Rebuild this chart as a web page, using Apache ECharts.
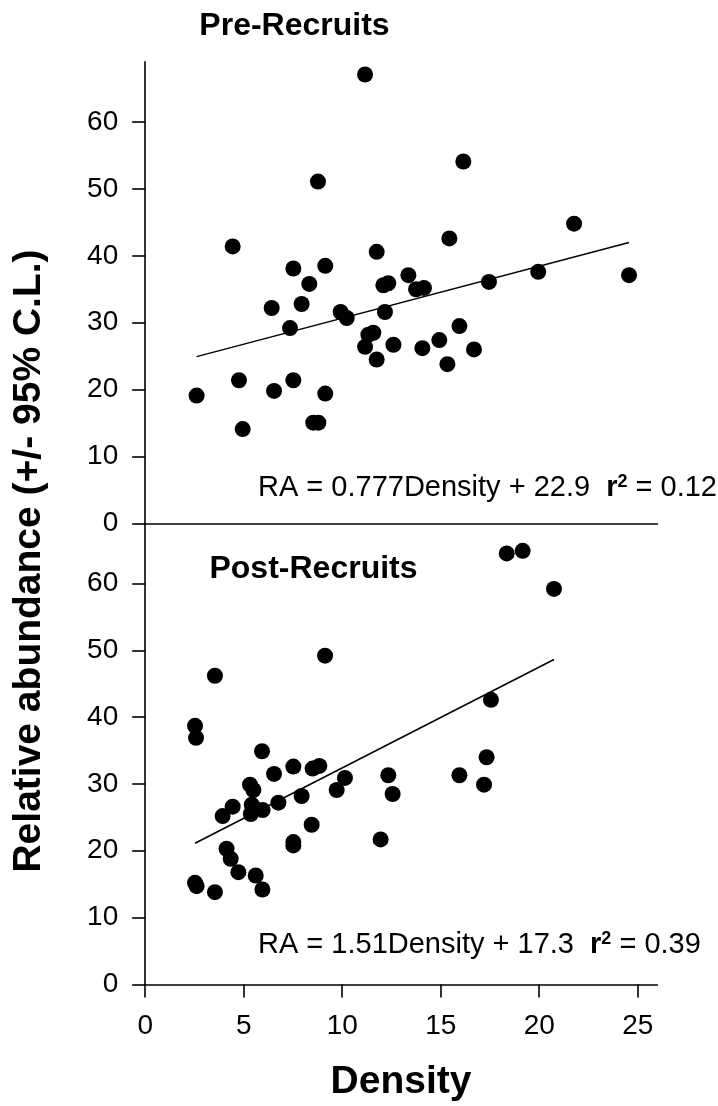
<!DOCTYPE html>
<html>
<head>
<meta charset="utf-8">
<script src="https://cdn.jsdelivr.net/npm/echarts@6/dist/echarts.min.js"></script>
<style>
  html, body { margin: 0; padding: 0; background: #ffffff; }
  #chart { width: 718px; height: 1106px; }
</style>
</head>
<body>
<div id="chart"></div>
<script>
// Pre-recruit samples: density vs relative abundance
const preDensity = [11.16, 8.77, 16.15, 4.44, 11.75, 15.44, 21.77, 7.52, 9.14, 8.33, 13.36, 12.09, 12.34, 13.75,
  14.15, 17.45, 19.95, 24.56, 6.42, 7.94, 7.35, 9.92, 10.23, 12.17, 11.33, 11.58, 11.16, 12.6, 11.75, 14.07,
  14.93, 15.95, 16.69, 15.34, 4.76, 7.52, 6.54, 2.61, 9.14, 4.95, 8.53, 8.79];
const preAbundance = [67.1, 51.1, 54.1, 41.4, 40.6, 42.6, 44.8, 38.1, 38.5, 35.8, 37.1, 35.6, 35.9, 35.0,
  35.2, 36.1, 37.6, 37.1, 32.2, 32.8, 29.2, 31.6, 30.7, 31.6, 28.2, 28.5, 26.4, 26.7, 24.5, 26.2,
  27.4, 29.5, 26.0, 23.8, 21.4, 21.4, 19.8, 19.1, 19.4, 14.1, 15.05, 15.05];

// Post-recruit samples
const postDensity = [9.13, 3.54, 2.53, 2.58, 18.35, 19.16, 20.75, 17.55, 5.93, 6.54, 7.52, 8.5, 8.84, 10.14,
  9.72, 12.34, 12.56, 5.32, 5.49, 4.44, 3.93, 5.41, 5.36, 5.96, 6.76, 7.94, 8.45, 7.52, 7.52, 11.95,
  4.13, 4.34, 4.73, 5.61, 5.95, 3.54, 2.53, 2.61, 17.33, 15.95, 17.2];
const postAbundance = [49.2, 46.2, 38.7, 36.9, 64.5, 64.9, 59.2, 42.6, 34.9, 31.5, 32.6, 32.3, 32.7, 30.9,
  29.1, 31.3, 28.5, 29.9, 29.1, 26.6, 25.2, 26.9, 25.5, 26.1, 27.2, 28.2, 23.9, 21.3, 20.8, 21.7,
  20.3, 18.8, 16.8, 16.3, 14.2, 13.8, 15.2, 14.7, 34.0, 31.3, 29.9];

// Regression fits: [slope, intercept, r squared]
const preFit = [0.777, 22.9, 0.12];
const postFit = [1.51, 17.3, 0.39];

// Axis ticks
const xTicks = [0, 5, 10, 15, 20, 25];
const yTicks = [0, 10, 20, 30, 40, 50, 60];

const FONT = "'Liberation Sans', Arial, Helvetica, sans-serif";
const INK = '#000000';

function pairs(xs, ys) { return xs.map((x, i) => [x, ys[i]]); }
function fitLine(xs, fit) {
  const lo = Math.min(...xs), hi = Math.max(...xs);
  return [[lo, fit[1] + fit[0] * lo], [hi, fit[1] + fit[0] * hi]];
}
function equation(fit) {
  return '{n|RA = ' + fit[0] + 'Density + ' + fit[1] + '  }{b|r}{s|2}{n| = ' + fit[2].toFixed(2) + '}';
}
const eqRich = {
  n: { fontFamily: FONT, fontSize: 29, color: INK },
  b: { fontFamily: FONT, fontSize: 29, fontWeight: 'bold', color: INK },
  s: { fontFamily: FONT, fontSize: 18, fontWeight: 'bold', color: INK, verticalAlign: 'top' }
};

const axisLineStyle = { color: INK, width: 1.6 };

function yAxisFor(gridIndex) {
  return {
    type: 'value', gridIndex, min: 0, max: 69,
    axisLine: { show: true, lineStyle: axisLineStyle },
    axisTick: { show: true, inside: false, length: 13, lineStyle: axisLineStyle, customValues: yTicks },
    axisLabel: { show: true, margin: 27, fontFamily: FONT, fontSize: 28, color: INK, customValues: yTicks },
    splitLine: { show: false }
  };
}

const dotStyle = { color: INK, opacity: 1 };

const chart = echarts.init(document.getElementById('chart'), null, { renderer: 'canvas' });
chart.setOption({
  backgroundColor: '#ffffff',
  animation: false,
  grid: [
    { left: 145.2, width: 512.2, top: 61.8, height: 461.6 },
    { left: 145.2, width: 512.2, top: 523.4, height: 461 }
  ],
  xAxis: [
    {
      type: 'value', gridIndex: 0, min: 0, max: 26,
      axisLine: { show: true, onZero: true, lineStyle: axisLineStyle },
      axisTick: { show: false }, axisLabel: { show: false }, splitLine: { show: false }
    },
    {
      type: 'value', gridIndex: 1, min: 0, max: 26,
      axisLine: { show: true, lineStyle: axisLineStyle },
      axisTick: { show: true, length: 13, lineStyle: axisLineStyle, customValues: xTicks },
      axisLabel: { show: true, margin: 28, fontFamily: FONT, fontSize: 28, color: INK, customValues: xTicks },
      splitLine: { show: false }
    }
  ],
  yAxis: [yAxisFor(0), yAxisFor(1)],
  series: [
    {
      type: 'line', xAxisIndex: 0, yAxisIndex: 0, data: fitLine(preDensity, preFit),
      symbol: 'none', lineStyle: { color: INK, width: 1.5 }, z: 1
    },
    {
      type: 'scatter', xAxisIndex: 0, yAxisIndex: 0, data: pairs(preDensity, preAbundance),
      symbol: 'circle', symbolSize: 16, itemStyle: dotStyle, emphasis: { disabled: true }, z: 2
    },
    {
      type: 'line', xAxisIndex: 1, yAxisIndex: 1, data: fitLine(postDensity, postFit),
      symbol: 'none', lineStyle: { color: INK, width: 1.5 }, z: 1
    },
    {
      type: 'scatter', xAxisIndex: 1, yAxisIndex: 1, data: pairs(postDensity, postAbundance),
      symbol: 'circle', symbolSize: 16, itemStyle: dotStyle, emphasis: { disabled: true }, z: 2
    }
  ],
  graphic: [
    {
      type: 'text', x: 294.5, y: 26,
      style: { text: 'Pre-Recruits', fontFamily: FONT, fontSize: 32, fontWeight: 'bold', fill: INK,
        textAlign: 'center', textVerticalAlign: 'middle' }
    },
    {
      type: 'text', x: 313.5, y: 569,
      style: { text: 'Post-Recruits', fontFamily: FONT, fontSize: 32, fontWeight: 'bold', fill: INK,
        textAlign: 'center', textVerticalAlign: 'middle' }
    },
    {
      type: 'text', x: 258, y: 487.5,
      style: { text: equation(preFit), rich: eqRich, textAlign: 'left', textVerticalAlign: 'middle' }
    },
    {
      type: 'text', x: 258, y: 945,
      style: { text: equation(postFit), rich: eqRich, textAlign: 'left', textVerticalAlign: 'middle' }
    },
    {
      type: 'text', x: 401, y: 1082,
      style: { text: 'Density', fontFamily: FONT, fontSize: 39, fontWeight: 'bold', fill: INK,
        textAlign: 'center', textVerticalAlign: 'middle' }
    },
    {
      type: 'text', x: 29, y: 561, rotation: Math.PI / 2,
      style: { text: 'Relative abundance (+/- 95% C.L.)', fontFamily: FONT, fontSize: 39, fontWeight: 'bold',
        fill: INK, textAlign: 'center', textVerticalAlign: 'middle' }
    }
  ]
});
</script>
</body>
</html>
